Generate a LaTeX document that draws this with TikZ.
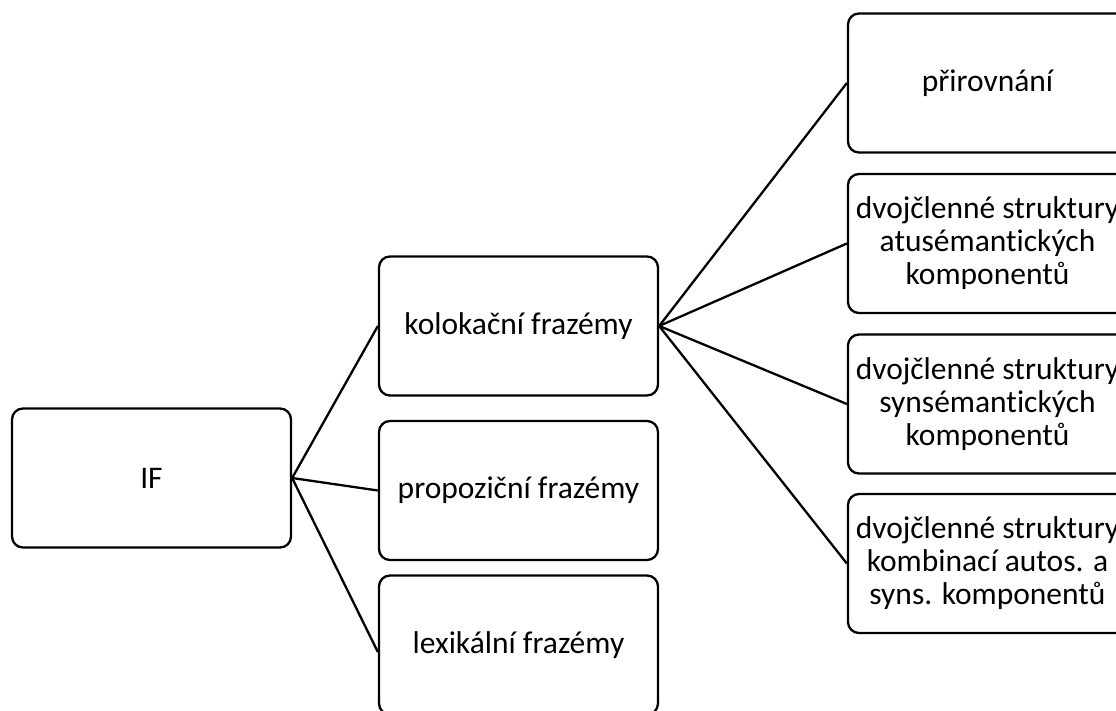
\documentclass[tikz,border=0pt]{standalone}
\usepackage{fontspec}
\setmainfont{Carlito}[Ligatures=NoCommon]
\begin{document}
\begin{tikzpicture}[x=1pt,y=-1pt,
  box/.style={draw=black, line width=2.3pt, rounded corners=11pt, minimum width=279pt, minimum height=139pt, align=center, inner sep=0pt, font=\fontsize{31.5}{33}\selectfont},
  link/.style={draw=black, line width=2.3pt}]
\useasboundingbox (0,0) rectangle (1116,711);
\clip (0,0) rectangle (1116,711);
\node[box] (if) at (151.5,478) {IF};
\node[box] (kol) at (518.5,326) {kolokační frazémy};
\node[box] (prop) at (518.5,490.5) {propoziční frazémy};
\node[box] (lex) at (518.5,645) {lexikální frazémy};
\node[box] (pri) at (987.5,83) {přirovnání};
\node[box] (ds1) at (987.5,243.5) {dvojčlenné struktury\\atusémantických\\komponentů};
\node[box] (ds2) at (987.5,404) {dvojčlenné struktury\\synsémantických\\komponentů};
\node[box] (ds3) at (987.5,563.5) {dvojčlenné struktury\\kombinací autos. a\\syns. komponentů};
\draw[link] (if.east) -- (kol.west);
\draw[link] (if.east) -- (prop.west);
\draw[link] (if.east) -- ([yshift=-7pt]lex.west);
\draw[link] (kol.east) -- (pri.west);
\draw[link] (kol.east) -- (ds1.west);
\draw[link] (kol.east) -- (ds2.west);
\draw[link] (kol.east) -- (ds3.west);
\end{tikzpicture}
\end{document}
